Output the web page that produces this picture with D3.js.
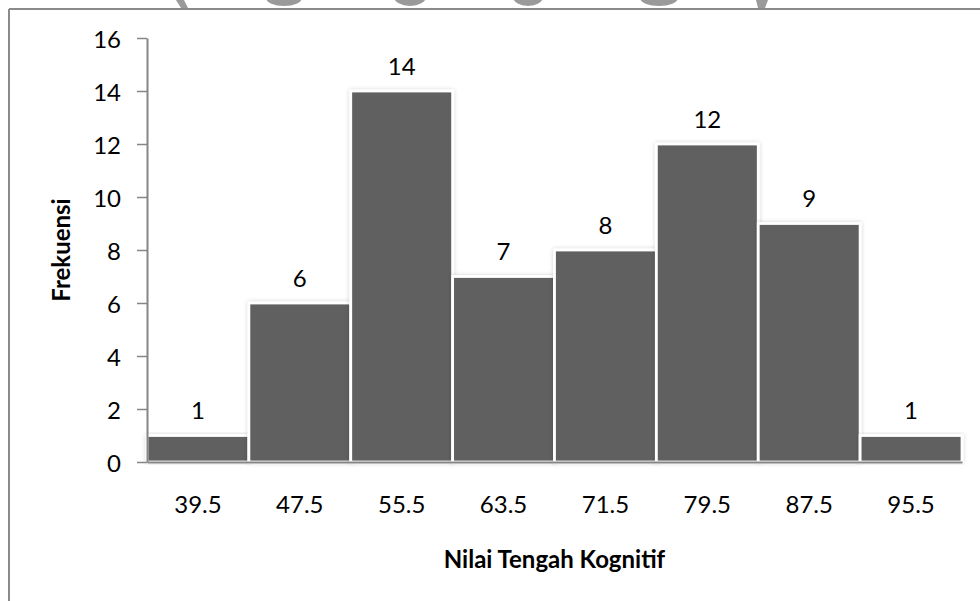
<!DOCTYPE html>
<html>
<head>
<meta charset="utf-8">
<script src="https://cdn.jsdelivr.net/npm/d3@7"></script>
<style>
  html, body { margin: 0; padding: 0; background: #ffffff; }
  svg { display: block; }
  text { font-family: Lato, "Open Sans", sans-serif; fill: #000; }
</style>
</head>
<body>
<svg id="chart" width="980" height="601"></svg>
<script>
// Class midpoints of the cognitive score intervals and their frequencies
const categories = ["39.5", "47.5", "55.5", "63.5", "71.5", "79.5", "87.5", "95.5"];
const frequencies = [1, 6, 14, 7, 8, 12, 9, 1];
const yTicks = [0, 2, 4, 6, 8, 10, 12, 14, 16];
const xTitle = "Nilai Tengah Kognitif";
const yTitle = "Frekuensi";

const svg = d3.select("#chart");
const W = 980, H = 601;

const plot = { left: 147, right: 962, top: 38, bottom: 462 };
const numFont = "24px";
const titleFont = "24px";

const x = d3.scaleBand()
  .domain(categories)
  .range([plot.left, plot.right])
  .padding(0);

const y = d3.scaleLinear()
  .domain([0, 16])
  .range([plot.bottom, plot.top]);

// soft glow shadow around each column
const defs = svg.append("defs");
const glow = defs.append("filter")
  .attr("id", "glow")
  .attr("x", "-10%").attr("y", "-10%")
  .attr("width", "120%").attr("height", "120%");
glow.append("feGaussianBlur").attr("in", "SourceAlpha").attr("stdDeviation", 2).attr("result", "blur");
glow.append("feFlood").attr("flood-color", "#000").attr("flood-opacity", 0.18).attr("result", "tint");
glow.append("feComposite").attr("in", "tint").attr("in2", "blur").attr("operator", "in").attr("result", "shadow");
const merge = glow.append("feMerge");
merge.append("feMergeNode").attr("in", "shadow");
merge.append("feMergeNode").attr("in", "SourceGraphic");

// fragments of the printed emblem peeking above the frame
const clip = defs.append("clipPath").attr("id", "topStrip");
clip.append("rect").attr("x", 0).attr("y", 0).attr("width", W).attr("height", 8);
const emblem = svg.append("g")
  .attr("fill", "#9a9a9a")
  .attr("clip-path", "url(#topStrip)");
emblem.append("path").attr("d", "M176,0 L184,0 L188,8 L181,8 Z");
emblem.append("ellipse").attr("cx", 284).attr("cy", -2).attr("rx", 18).attr("ry", 8);
emblem.append("ellipse").attr("cx", 410).attr("cy", -3).attr("rx", 16).attr("ry", 9);
emblem.append("ellipse").attr("cx", 528).attr("cy", -3).attr("rx", 15).attr("ry", 9);
emblem.append("ellipse").attr("cx", 659).attr("cy", -2).attr("rx", 19).attr("ry", 8);
emblem.append("path").attr("d", "M756,0 L768,0 L765,8 L758,8 Z");

// chart frame
svg.append("line")
  .attr("x1", 9).attr("y1", 9).attr("x2", W).attr("y2", 9)
  .attr("stroke", "#8a8a8a").attr("stroke-width", 2);
svg.append("line")
  .attr("x1", 9).attr("y1", 9).attr("x2", 9).attr("y2", H)
  .attr("stroke", "#8a8a8a").attr("stroke-width", 2);

// columns
svg.append("g")
  .selectAll("rect")
  .data(frequencies)
  .join("rect")
  .attr("x", (d, i) => x(categories[i]))
  .attr("y", d => y(d))
  .attr("width", x.bandwidth())
  .attr("height", d => y(0) - y(d))
  .attr("fill", "#606060")
  .attr("stroke", "#ffffff")
  .attr("stroke-width", 2.8)
  .attr("filter", "url(#glow)");

// value labels
svg.append("g")
  .selectAll("text")
  .data(frequencies)
  .join("text")
  .attr("x", (d, i) => x(categories[i]) + x.bandwidth() / 2)
  .attr("y", d => y(d) - 16.5)
  .attr("text-anchor", "middle")
  .style("font-size", numFont)
  .text(d => d);

// y axis
const yAxis = svg.append("g")
  .attr("transform", `translate(${plot.left},0)`)
  .call(d3.axisLeft(y).tickValues(yTicks).tickSize(10).tickPadding(16).tickSizeOuter(0));
yAxis.select(".domain").attr("stroke", "#868686").attr("stroke-width", 2);
yAxis.selectAll(".tick line").attr("stroke", "#868686").attr("stroke-width", 1.5);
yAxis.selectAll(".tick text")
  .style("font-family", "Lato, 'Open Sans', sans-serif")
  .style("font-size", numFont)
  .attr("fill", "#000")
  .attr("dy", "0.4em");

// x axis
const xAxis = svg.append("g")
  .attr("transform", `translate(0,${plot.bottom})`)
  .call(d3.axisBottom(x).tickSize(0).tickPadding(34).tickSizeOuter(0));
xAxis.select(".domain").attr("stroke", "#868686").attr("stroke-width", 2.2);
xAxis.selectAll(".tick text")
  .style("font-family", "Lato, 'Open Sans', sans-serif")
  .style("font-size", numFont)
  .attr("fill", "#000");

// axis titles
svg.append("text")
  .attr("x", (plot.left + plot.right) / 2)
  .attr("y", 568)
  .attr("text-anchor", "middle")
  .style("font-size", titleFont)
  .style("font-weight", "bold")
  .text(xTitle);

svg.append("text")
  .attr("transform", `translate(70,${(plot.top + plot.bottom) / 2}) rotate(-90)`)
  .attr("text-anchor", "middle")
  .style("font-size", titleFont)
  .style("font-weight", "bold")
  .text(yTitle);
</script>
</body>
</html>
